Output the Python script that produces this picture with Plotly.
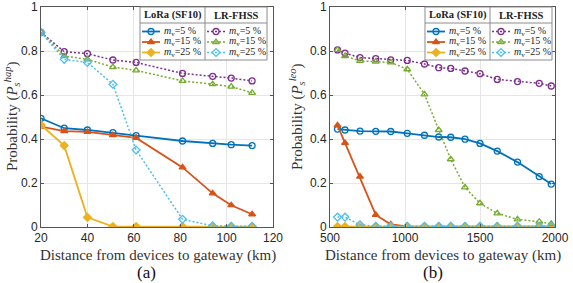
import plotly.graph_objects as go

# ---------------- data ----------------
dist_hap = [20, 30, 40, 51, 61, 81, 94, 102, 111]
hap_lora_5 = [0.494, 0.449, 0.441, 0.429, 0.415, 0.391, 0.380, 0.374, 0.370]
hap_lora_15 = [0.456, 0.436, 0.432, 0.418, 0.405, 0.271, 0.153, 0.099, 0.058]
hap_lora_25 = [0.464, 0.370, 0.044, 0.002, 0.002, 0.002, 0.002, 0.002, 0.002]
hap_fhss_5 = [0.885, 0.797, 0.788, 0.759, 0.748, 0.698, 0.685, 0.677, 0.664]
hap_fhss_15 = [0.885, 0.777, 0.762, 0.727, 0.712, 0.664, 0.649, 0.638, 0.610]
hap_fhss_25 = [0.885, 0.762, 0.748, 0.649, 0.350, 0.035, 0.005, 0.003, 0.003]

dist_leo = [550, 600, 700, 805, 905, 1015, 1130, 1225, 1305, 1400, 1500, 1615, 1750, 1895, 1975]
leo_lora_5 = [0.445, 0.441, 0.436, 0.435, 0.434, 0.426, 0.417, 0.409, 0.408, 0.399, 0.380, 0.345, 0.295, 0.229, 0.195]
leo_lora_15 = [0.462, 0.382, 0.229, 0.055, 0.012, 0.003, 0.002, 0.002, 0.002, 0.002, 0.002, 0.002, 0.002, 0.002, 0.002]
leo_lora_25 = [0.002] * 15
leo_fhss_5 = [0.805, 0.790, 0.770, 0.765, 0.760, 0.757, 0.741, 0.724, 0.721, 0.709, 0.697, 0.671, 0.661, 0.653, 0.641]
leo_fhss_15 = [0.805, 0.777, 0.755, 0.752, 0.748, 0.717, 0.603, 0.441, 0.308, 0.180, 0.108, 0.062, 0.035, 0.024, 0.014]
leo_fhss_25 = [0.045, 0.045, 0.010, 0.003, 0.003, 0.003, 0.003, 0.003, 0.003, 0.003, 0.003, 0.003, 0.003, 0.003, 0.003]

series_labels = ["<i>m</i><sub>v</sub>=5 %", "<i>m</i><sub>v</sub>=15 %", "<i>m</i><sub>v</sub>=25 %"]
x_ticks_hap = [20, 40, 60, 80, 100, 120]
x_ticks_leo = [500, 1000, 1500, 2000]
y_ticks = [0, 0.2, 0.4, 0.6, 0.8, 1]

# ---------------- styles ----------------
W, H = 573, 283
BLUE, RED, YEL = "#0072BD", "#D95319", "#EDB120"
PUR, GRN, CYN = "#7E2F8E", "#77AC30", "#4DBEEE"
SERIF = "Liberation Serif"
SANS = "Liberation Sans"
AX = "#555555"
DOTTED = "2px,2px"

lora_styles = [
    dict(color=BLUE, symbol="circle-open", solid=True),
    dict(color=RED, symbol="triangle-up", solid=True),
    dict(color=YEL, symbol="diamond", solid=True),
]
fhss_styles = [
    dict(color=PUR, symbol="circle-open", solid=False),
    dict(color=GRN, symbol="triangle-up-open", solid=False),
    dict(color=CYN, symbol="diamond-open", solid=False),
]


def px2x(p):
    return p / W


def px2y(p):
    return 1 - p / H


def line_style(st):
    return dict(color=st["color"], width=1.8 if st["solid"] else 1.5,
                dash="solid" if st["solid"] else DOTTED)


fig = go.Figure()


def add_series(x, y, st, xa, ya):
    fig.add_trace(go.Scatter(
        x=x, y=y, mode="lines+markers", xaxis=xa, yaxis=ya, showlegend=False,
        line=line_style(st),
        marker=dict(symbol=st["symbol"], size=6, color=st["color"],
                    line=dict(color=st["color"], width=1.3)),
    ))


for ys, st in zip([hap_lora_5, hap_lora_15, hap_lora_25], lora_styles):
    add_series(dist_hap, ys, st, "x", "y")
for ys, st in zip([hap_fhss_5, hap_fhss_15, hap_fhss_25], fhss_styles):
    add_series(dist_hap, ys, st, "x", "y")
for ys, st in zip([leo_lora_5, leo_lora_15, leo_lora_25], lora_styles):
    add_series(dist_leo, ys, st, "x2", "y2")
for ys, st in zip([leo_fhss_5, leo_fhss_15, leo_fhss_25], fhss_styles):
    add_series(dist_leo, ys, st, "x2", "y2")

annotations = []


def ann(xp, yp, text, size, color="#222", xanchor="center", angle=0):
    annotations.append(dict(x=px2x(xp), y=px2y(yp), xref="paper", yref="paper",
                            xanchor=xanchor, yanchor="middle", text=text, showarrow=False,
                            textangle=angle, font=dict(family=SERIF, size=size, color=color)))


# ---------------- custom two-column legends (pixel overlay axis x3/y3) ----------------
def add_legend(x0):
    left, mid, right = x0, x0 + 65, x0 + 127
    top, hdr, bot = 7, 23, 60
    fig.add_trace(go.Scatter(
        x=[left, right, right, left, left], y=[top, top, bot, bot, top],
        mode="lines", fill="toself", fillcolor="white",
        line=dict(color="#8c8c8c", width=1), xaxis="x3", yaxis="y3",
        showlegend=False, hoverinfo="skip"))
    fig.add_trace(go.Scatter(
        x=[left, right, None, mid, mid], y=[hdr, hdr, None, top, bot],
        mode="lines", line=dict(color="#8c8c8c", width=1),
        xaxis="x3", yaxis="y3", showlegend=False, hoverinfo="skip"))
    ann((left + mid) / 2, 15.5, "<b>LoRa (SF10)</b>", 10.5)
    ann((mid + right) / 2, 15.5, "<b>LR-FHSS</b>", 10.5)
    rows = [31.5, 42, 52.5]
    for col, styles in ((left, lora_styles), (mid, fhss_styles)):
        for r, st, lab in zip(rows, styles, series_labels):
            fig.add_trace(go.Scatter(
                x=[col + 2, col + 20], y=[r, r], mode="lines", line=line_style(st),
                xaxis="x3", yaxis="y3", showlegend=False, hoverinfo="skip"))
            fig.add_trace(go.Scatter(
                x=[col + 11], y=[r], mode="markers",
                marker=dict(symbol=st["symbol"], size=6, color=st["color"],
                            line=dict(color=st["color"], width=1.3)),
                xaxis="x3", yaxis="y3", showlegend=False, hoverinfo="skip"))
            ann(col + 22, r, lab, 10, xanchor="left")


add_legend(140)
add_legend(425)

# ---------------- axis titles & panel labels ----------------
xt = "Distance from devices to gateway (km)"
ann(158, 255, xt, 15, color="#333")
ann(443, 255, xt, 15, color="#333")
ann(146, 272, "(a)", 17, color="#111")
ann(433, 272, "(b)", 17, color="#111")
ann(12, 117, "Probability (<i>P</i><sub><i>s</i></sub><sup><i>hap</i></sup>)", 15, color="#333", angle=-90)
ann(297, 117, "Probability (<i>P</i><sub><i>s</i></sub><sup><i>leo</i></sup>)", 15, color="#333", angle=-90)

ydom = [px2y(227), px2y(7)]
common_axis = dict(showline=True, linecolor=AX, linewidth=1, mirror="ticks", ticks="inside",
                   ticklen=3, tickcolor=AX, showgrid=True, gridcolor="#e6e6e6", gridwidth=1,
                   zeroline=False, automargin=False,
                   tickfont=dict(family=SANS, size=12, color="#262626"))

fig.update_layout(
    width=W, height=H, margin=dict(l=0, r=0, t=0, b=0, pad=0),
    paper_bgcolor="white", plot_bgcolor="rgba(0,0,0,0)",
    showlegend=False,
    xaxis=dict(domain=[px2x(41), px2x(273)], range=[20, 120], tickvals=x_ticks_hap,
               anchor="y", **common_axis),
    yaxis=dict(domain=ydom, range=[0, 1], tickvals=y_ticks, anchor="x", **common_axis),
    xaxis2=dict(domain=[px2x(330), px2x(555)], range=[500, 2000], tickvals=x_ticks_leo,
                anchor="y2", **common_axis),
    yaxis2=dict(domain=ydom, range=[0, 1], tickvals=y_ticks, anchor="x2", **common_axis),
    xaxis3=dict(domain=[0, 1], range=[0, W], visible=False, anchor="y3", fixedrange=True),
    yaxis3=dict(domain=[0, 1], range=[H, 0], visible=False, anchor="x3", fixedrange=True),
    annotations=annotations,
)

fig.write_html("out.html", config={"displayModeBar": False},
               post_script="document.body.style.margin='0';")
